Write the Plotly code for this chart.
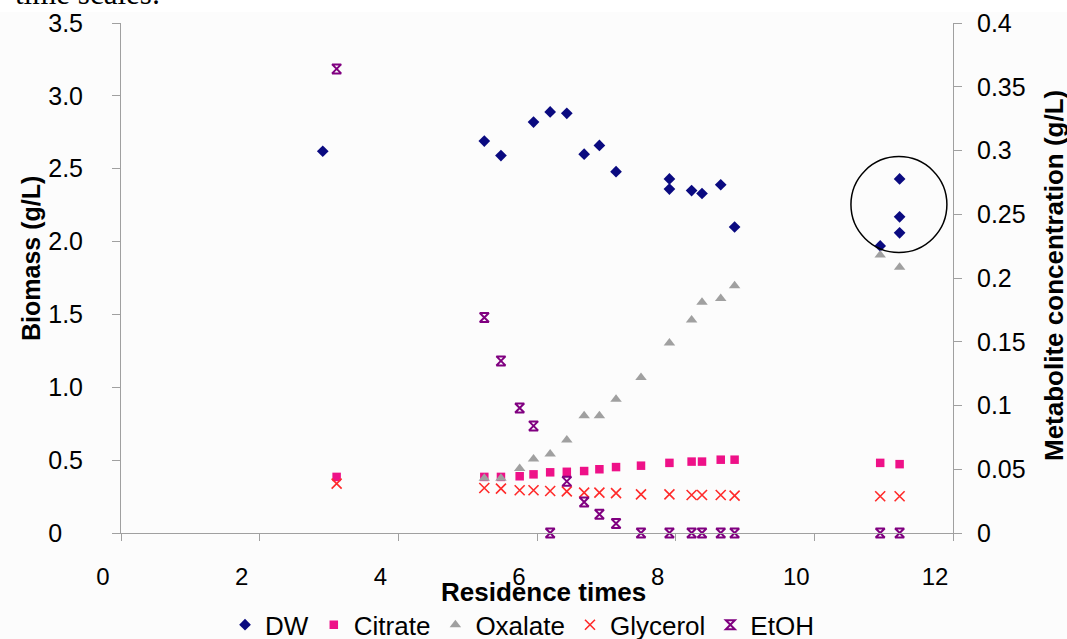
import plotly.graph_objects as go

# Biomass (dry weight) samples
dw_time = [2.91, 5.24, 5.48, 5.95, 6.19, 6.43, 6.68, 6.90, 7.14, 7.91, 7.91,
           8.23, 8.38, 8.65, 8.85, 10.95, 11.23, 11.23, 11.23]
dw = [2.62, 2.69, 2.59, 2.82, 2.89, 2.88, 2.60, 2.66, 2.48, 2.43, 2.36,
      2.35, 2.33, 2.39, 2.10, 1.97, 2.43, 2.17, 2.06]

# Metabolite samples
met_time = [3.11, 5.24, 5.48, 5.75, 5.95, 6.19, 6.43, 6.68, 6.90, 7.14, 7.50,
            7.91, 8.23, 8.38, 8.65, 8.85, 10.95, 11.23]
citrate = [0.044, 0.044, 0.044, 0.0445, 0.046, 0.0476, 0.048, 0.0486, 0.050,
           0.0517, 0.0528, 0.055, 0.056, 0.056, 0.0575, 0.0575, 0.055, 0.054]
oxalate = [None, 0.043, 0.043, 0.0505, 0.058, 0.062, 0.073, 0.092, 0.092,
           0.105, 0.122, 0.149, 0.167, 0.181, 0.184, 0.194, 0.218, 0.2085]
glycerol = [0.0387, 0.0353, 0.0348, 0.0335, 0.0335, 0.0329, 0.0327, 0.0317,
            0.0317, 0.0313, 0.0303, 0.0303, 0.0298, 0.0298, 0.0298, 0.0293,
            0.0288, 0.0288]
etoh = [0.364, 0.169, 0.135, 0.098, 0.084, 0.0, 0.0405, 0.0243, 0.0147,
        0.0075, 0.0, 0.0, 0.0, 0.0, 0.0, 0.0, 0.0, 0.0]

x_ticks = [0, 2, 4, 6, 8, 10, 12]
y_ticks = [0, 0.5, 1.0, 1.5, 2.0, 2.5, 3.0, 3.5]
y_labels = ["0", "0.5", "1.0", "1.5", "2.0", "2.5", "3.0", "3.5"]
y2_ticks = [0, 0.05, 0.1, 0.15, 0.2, 0.25, 0.3, 0.35, 0.4]
y2_labels = ["0", "0.05", "0.1", "0.15", "0.2", "0.25", "0.3", "0.35", "0.4"]

FONT = "Liberation Sans, Arial, sans-serif"
AXIS = "#a0a0a0"

# left-align the short "0" label with the wider ones
y_text = [t + "\u00a0\u00a0\u00a0" if t == "0" else t for t in y_labels]

fig = go.Figure()
fig.add_trace(go.Scatter(
    x=dw_time, y=dw, mode="markers", name="DW", cliponaxis=False,
    marker=dict(symbol="diamond", size=9, color="#0a0a80")))
fig.add_trace(go.Scatter(
    x=met_time, y=citrate, mode="markers", name="Citrate", yaxis="y2",
    cliponaxis=False, marker=dict(symbol="square", size=8.5, color="#ee1188")))
fig.add_trace(go.Scatter(
    x=met_time, y=oxalate, mode="markers", name="Oxalate", yaxis="y2",
    cliponaxis=False, marker=dict(symbol="triangle-up", size=10, color="#a0a0a0")))
fig.add_trace(go.Scatter(
    x=met_time, y=glycerol, mode="markers", name="Glycerol", yaxis="y2",
    cliponaxis=False,
    marker=dict(symbol="x-thin-open", size=10, color="#ff2a2a",
                line=dict(width=1.6, color="#ff2a2a"))))
fig.add_trace(go.Scatter(
    x=met_time, y=etoh, mode="markers", name="EtOH", yaxis="y2",
    cliponaxis=False,
    marker=dict(symbol="hourglass-open", size=9, color="#800080",
                line=dict(width=2, color="#800080"))))

fig.update_layout(
    width=1067, height=639,
    margin=dict(l=121, r=114, t=23, b=106, pad=0, autoexpand=False),
    paper_bgcolor="#fcfcfc", plot_bgcolor="#fcfcfc",
    font=dict(family=FONT, size=24, color="#000000"),
    showlegend=True,
    legend=dict(orientation="h", x=0.482, xanchor="center", y=-0.180,
                yanchor="middle", font=dict(family=FONT, size=26),
                bgcolor="rgba(0,0,0,0)", itemclick=False),
    xaxis=dict(range=[0, 12], tickvals=x_ticks, ticks="outside", ticklen=7,
               tickcolor=AXIS, showline=True, linecolor=AXIS, linewidth=1,
               showgrid=False, zeroline=False, ticklabelshift=-18,
               ticklabelstandoff=15, tickfont=dict(size=24),
               automargin=False),
    yaxis=dict(range=[0, 3.5], tickvals=y_ticks, ticktext=y_text,
               ticks="outside", ticklen=8, tickcolor=AXIS, showline=True,
               linecolor=AXIS, linewidth=1, showgrid=False, zeroline=False,
               ticklabelstandoff=24, tickfont=dict(size=25),
               automargin=False),
    yaxis2=dict(range=[0, 0.4], tickvals=y2_ticks, ticktext=y2_labels,
                overlaying="y", side="right", ticks="outside", ticklen=8,
                tickcolor=AXIS, showline=True, linecolor=AXIS, linewidth=1,
                showgrid=False, zeroline=False, ticklabelstandoff=10,
                tickfont=dict(size=25), automargin=False),
    shapes=[
        # band of page above the chart
        dict(type="rect", xref="paper", yref="paper", x0=-0.2, x1=1.2,
             y0=1 + 11 / 510, y1=1.1, fillcolor="#ffffff", line_width=0,
             layer="below"),
        # highlight ring around the late samples
        dict(type="circle", xref="x", yref="y", x0=11.22 - 0.692,
             x1=11.22 + 0.692, y0=2.254 - 0.329, y1=2.254 + 0.329,
             line=dict(color="#000000", width=1.5)),
    ],
    annotations=[
        dict(text="time scales:", xref="paper", yref="paper",
             x=(13 - 121) / 832, xanchor="left", y=1 + 10 / 510,
             yanchor="bottom", showarrow=False,
             font=dict(family="Liberation Serif, Times New Roman, serif",
                       size=31, color="#000000")),
        dict(text="<b>Residence times</b>", xref="paper", yref="paper",
             x=(543 - 121) / 832, xanchor="center", y=(533 - 592) / 510,
             yanchor="middle", showarrow=False,
             font=dict(family=FONT, size=26)),
        dict(text="<b>Biomass (g/L)</b>", xref="paper", yref="paper",
             x=(31 - 121) / 832, xanchor="center", y=(533 - 259) / 510,
             yanchor="middle", textangle=-90, showarrow=False,
             font=dict(family=FONT, size=25)),
        dict(text="<b>Metabolite concentration (g/L)</b>", xref="paper",
             yref="paper", x=(1054 - 121) / 832, xanchor="center",
             y=(533 - 276) / 510, yanchor="middle", textangle=-90,
             showarrow=False, font=dict(family=FONT, size=26)),
    ],
)

fig.write_html("out.html")
